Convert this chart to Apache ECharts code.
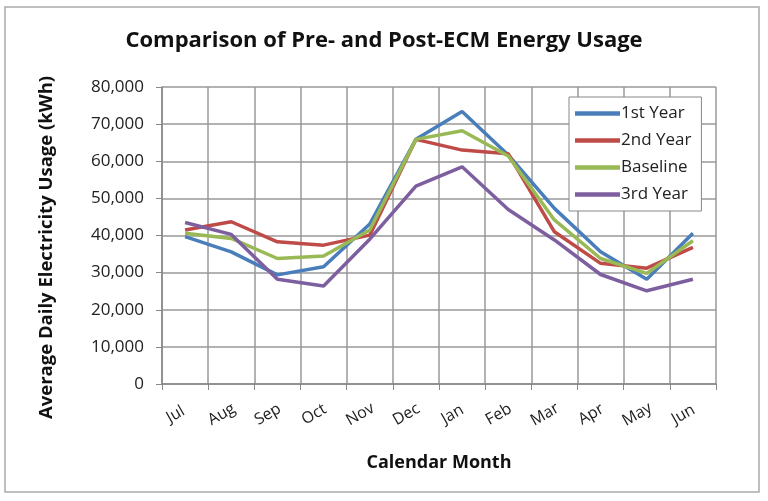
<!DOCTYPE html>
<html>
<head>
<meta charset="utf-8">
<script src="https://cdn.jsdelivr.net/npm/echarts@6/dist/echarts.min.js"></script>
<style>
  html, body { margin: 0; padding: 0; background: #fff; }
  #chart { width: 768px; height: 501px; }
</style>
</head>
<body>
<div id="chart"></div>
<script>
var months = ['Jul', 'Aug', 'Sep', 'Oct', 'Nov', 'Dec', 'Jan', 'Feb', 'Mar', 'Apr', 'May', 'Jun'];

var year1 = [39700, 35600, 29400, 31600, 43100, 65900, 73400, 61700, 47300, 35600, 28200, 40600];
var year2 = [41500, 43700, 38300, 37400, 40100, 65900, 63000, 62000, 41000, 32500, 31200, 36800];
var baseline = [40600, 39200, 33800, 34500, 41500, 65900, 68200, 61400, 44200, 33800, 29800, 38600];
var year3 = [43500, 40300, 28200, 26400, 39000, 53300, 58500, 47000, 38800, 29500, 25100, 28200];

var fontName = '"Open Sans", "Noto Sans", sans-serif';

function makeLine(name, data, color) {
	return {
		name: name,
		type: 'line',
		data: data,
		symbol: 'none',
		lineStyle: { width: 3.5, color: color },
		itemStyle: { color: color }
	};
}

var chart = echarts.init(document.getElementById('chart'));
chart.setOption({
	animation: false,
	textStyle: { fontFamily: fontName },
	title: {
		text: 'Comparison of Pre- and Post-ECM Energy Usage',
		left: 'center',
		top: 25,
		textStyle: { fontSize: 22, fontWeight: 'bold', color: '#111', fontFamily: fontName }
	},
	graphic: [{
		type: 'rect',
		shape: { x: 5, y: 7, width: 754, height: 485 },
		style: { fill: 'none', stroke: '#aaa', lineWidth: 1.5 },
		silent: true
	}],
	legend: {
		orient: 'vertical',
		left: 569,
		top: 97,
		padding: [8, 10, 8, 6],
		itemGap: 10,
		itemWidth: 45,
		itemHeight: 18.5,
		backgroundColor: '#fff',
		borderColor: '#888',
		borderWidth: 1,
		borderRadius: 0,
		icon: 'path://M0,0 H10 V1 H0 Z',
		textStyle: { fontSize: 17, color: '#222', padding: [0, 0, 0, -4] },
		data: ['1st Year', '2nd Year', 'Baseline', '3rd Year']
	},
	grid: {
		left: 162,
		right: 52,
		top: 87,
		bottom: 117,
		containLabel: false
	},
	xAxis: {
		type: 'category',
		data: months,
		boundaryGap: true,
		name: 'Calendar Month',
		nameLocation: 'middle',
		nameGap: 70,
		nameTextStyle: { fontSize: 18, fontWeight: 'bold', color: '#111' },
		axisLine: { lineStyle: { color: '#888', width: 1.5 } },
		axisTick: { show: true, length: 6, alignWithLabel: false, lineStyle: { color: '#888' } },
		axisLabel: {
			rotate: 30,
			align: 'center',
			verticalAlign: 'middle',
			padding: [0, 22, 0, 0],
			fontSize: 16,
			color: '#222',
			margin: 25,
			interval: 0
		},
		splitLine: { show: true, lineStyle: { color: '#999', width: 1.5 } }
	},
	yAxis: {
		type: 'value',
		min: 0,
		max: 80000,
		interval: 10000,
		name: 'Average Daily Electricity Usage (kWh)',
		nameLocation: 'middle',
		nameGap: 106,
		nameTextStyle: { fontSize: 18.5, fontWeight: 'bold', color: '#111', padding: [0, 24, 0, 0] },
		axisLine: { show: true, lineStyle: { color: '#888', width: 1.5 } },
		axisTick: { show: true, length: 6, lineStyle: { color: '#888' } },
		axisLabel: {
			fontSize: 17,
			color: '#222',
			margin: 18,
			formatter: function (v) { return v.toLocaleString('en-US'); }
		},
		splitLine: { show: true, lineStyle: { color: '#999', width: 1.5 } }
	},
	series: [
		makeLine('1st Year', year1, '#4a7ebb'),
		makeLine('2nd Year', year2, '#be4b48'),
		makeLine('Baseline', baseline, '#98b954'),
		makeLine('3rd Year', year3, '#7d5fa0')
	]
});
</script>
</body>
</html>
